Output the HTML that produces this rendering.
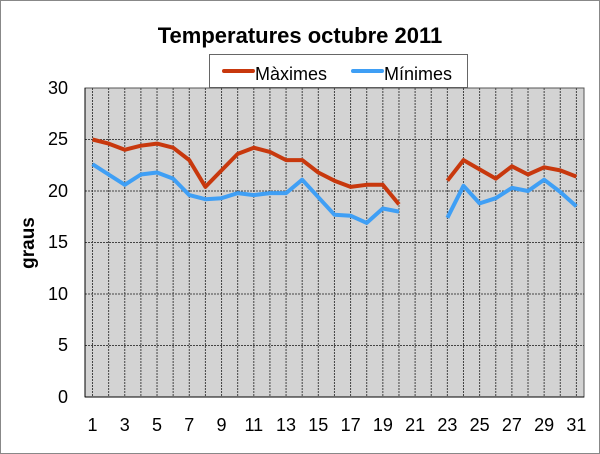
<!DOCTYPE html>
<html><head><style>body{margin:0;background:#fff}svg{display:block}text{font-family:"Liberation Sans",Arial,sans-serif}</style></head><body>
<svg width="600" height="454" xmlns="http://www.w3.org/2000/svg">
<rect x="0.5" y="0.5" width="599" height="453" fill="#fff" stroke="#888"/>
<text x="300" y="43" font-size="22" font-weight="bold" text-anchor="middle">Temperatures octubre 2011</text>
<rect x="209.5" y="54.5" width="258" height="33" fill="#fff" stroke="#666"/>
<line x1="224" y1="71" x2="253" y2="71" stroke="#c8380d" stroke-width="4" stroke-linecap="round"/>
<text x="255" y="80" font-size="18">Màximes</text>
<line x1="353" y1="71" x2="382" y2="71" stroke="#3f9ff5" stroke-width="4" stroke-linecap="round"/>
<text x="384" y="80" font-size="18">Mínimes</text>
<rect x="85" y="88" width="499" height="309" fill="#d3d3d3" stroke="#555"/>
<g stroke="#444" stroke-dasharray="2,1" stroke-width="1">
<line x1="85" y1="345.5" x2="584" y2="345.5"/><line x1="85" y1="294" x2="584" y2="294"/><line x1="85" y1="242.5" x2="584" y2="242.5"/><line x1="85" y1="191" x2="584" y2="191"/><line x1="85" y1="139.5" x2="584" y2="139.5"/>
</g>
<g id="v" stroke="#444" stroke-dasharray="2,1"></g>
<line x1="85" y1="397" x2="584" y2="397" stroke="#000"/>
<line x1="85" y1="88" x2="85" y2="397" stroke="#000"/>
<g font-size="18" text-anchor="end">
<text x="68" y="403">0</text><text x="68" y="351">5</text><text x="68" y="300">10</text><text x="68" y="248">15</text><text x="68" y="197">20</text><text x="68" y="145">25</text><text x="68" y="94">30</text>
</g>
<text transform="translate(34,243) rotate(-90)" font-size="19" font-weight="bold" text-anchor="middle">graus</text>
<g id="xl" font-size="18" text-anchor="middle"></g>
<polyline id="mx1" fill="none" stroke="#c8380d" stroke-width="4" stroke-linejoin="round"/>
<polyline id="mx2" fill="none" stroke="#c8380d" stroke-width="4" stroke-linejoin="round"/>
<polyline id="mn1" fill="none" stroke="#3f9ff5" stroke-width="4" stroke-linejoin="round"/>
<polyline id="mn2" fill="none" stroke="#3f9ff5" stroke-width="4" stroke-linejoin="round"/>
</svg>
<script>
var X=function(i){return 92.5+16.13*(i-1)},Y=function(v){return 397-v*10.3};
var mx=[25,24.6,24,24.4,24.6,24.2,23,20.4,22,23.6,24.2,23.8,23,23,21.8,21,20.4,20.6,20.6,18.7,null,null,21,23,22.1,21.2,22.4,21.6,22.3,22,21.4];
var mn=[22.6,21.6,20.6,21.6,21.8,21.2,19.6,19.2,19.3,19.8,19.6,19.8,19.8,21.1,19.4,17.7,17.6,16.9,18.3,18,null,null,17.4,20.5,18.8,19.3,20.3,20,21.1,19.9,18.5];
function pts(a,s,e){var r=[];for(var i=s;i<=e;i++)r.push(X(i).toFixed(1)+","+Y(a[i-1]).toFixed(1));return r.join(" ");}
document.getElementById('mx1').setAttribute('points',pts(mx,1,20));
document.getElementById('mx2').setAttribute('points',pts(mx,23,31));
document.getElementById('mn1').setAttribute('points',pts(mn,1,20));
document.getElementById('mn2').setAttribute('points',pts(mn,23,31));
var ns="http://www.w3.org/2000/svg",v=document.getElementById('v'),xl=document.getElementById('xl');
for(var i=1;i<=31;i++){var l=document.createElementNS(ns,'line');l.setAttribute('x1',X(i));l.setAttribute('x2',X(i));l.setAttribute('y1',88);l.setAttribute('y2',397);v.appendChild(l);
if(i%2){var t=document.createElementNS(ns,'text');t.setAttribute('x',X(i));t.setAttribute('y',431);t.textContent=i;xl.appendChild(t);}}
</script>
</body></html>
